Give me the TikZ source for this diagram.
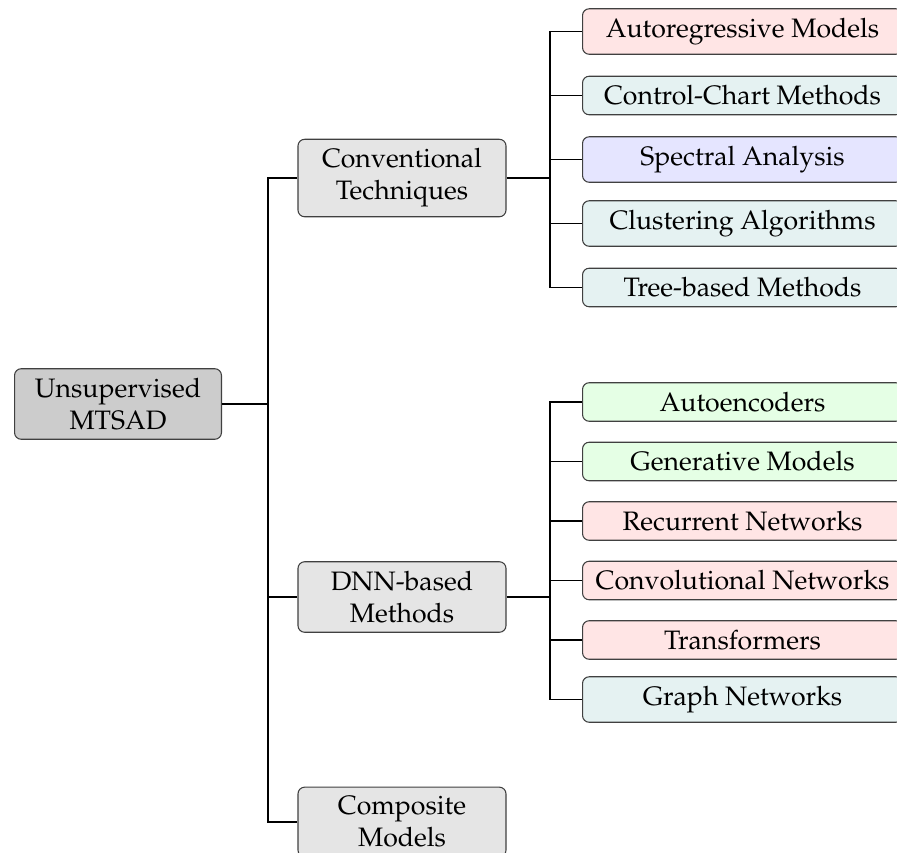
\documentclass[tikz,border=0pt]{standalone}
\usepackage[T1]{fontenc}
\usepackage{mathpazo}
\usetikzlibrary{positioning}

\begin{document}
\begin{tikzpicture}[x=0.375pt, y=-0.375pt,
    box/.style={draw=black!75, rounded corners=2.5pt, align=center,
                inner sep=3.5pt, line width=0.4pt},
    root/.style={box, fill=black!20, minimum width=77.6pt},
    mid/.style={box, fill=black!10, minimum width=78pt},
    leaf/.style={box, anchor=west, minimum width=120pt}
  ]
  \useasboundingbox (0,0) rectangle (897,852);
  % -- root and first level --
  \node[root] (r) at (118,404) {Unsupervised\\MTSAD};
  \node[mid] (m1) at (402,178) {Conventional\\Techniques};
  \node[mid] (m2) at (402,597) {DNN-based\\Methods};
  \node[mid] (m3) at (402,822) {Composite\\Models};
  \coordinate (j0) at (268,404);
  \draw (r.east) -- (j0);
  \foreach \i in {1,2,3}{ \draw (j0) |- (m\i.west); }
  % -- conventional techniques --
  \foreach \t/\c [count=\i] in {Autoregressive Models/red, Control-Chart Methods/teal,
      Spectral Analysis/blue, Clustering Algorithms/teal, Tree-based Methods/teal}{
    \node[leaf, fill=\c!10] (a\i) at (582,{31.5+64*(\i-1)}) {\t};
  }
  \coordinate (j1) at (550,178);
  \draw (m1.east) -- (j1);
  \foreach \i in {1,...,5}{ \draw (j1) |- (a\i.west); }
  % -- dnn-based methods --
  \foreach \t/\c [count=\i] in {Autoencoders/green, Generative Models/green,
      Recurrent Networks/red, Convolutional Networks/red, Transformers/red,
      Graph Networks/teal}{
    \node[leaf, fill=\c!10] (b\i) at (582,{402+59.5*(\i-1)}) {\t};
  }
  \coordinate (j2) at (550,597);
  \draw (m2.east) -- (j2);
  \foreach \i in {1,...,6}{ \draw (j2) |- (b\i.west); }
\end{tikzpicture}
\end{document}
